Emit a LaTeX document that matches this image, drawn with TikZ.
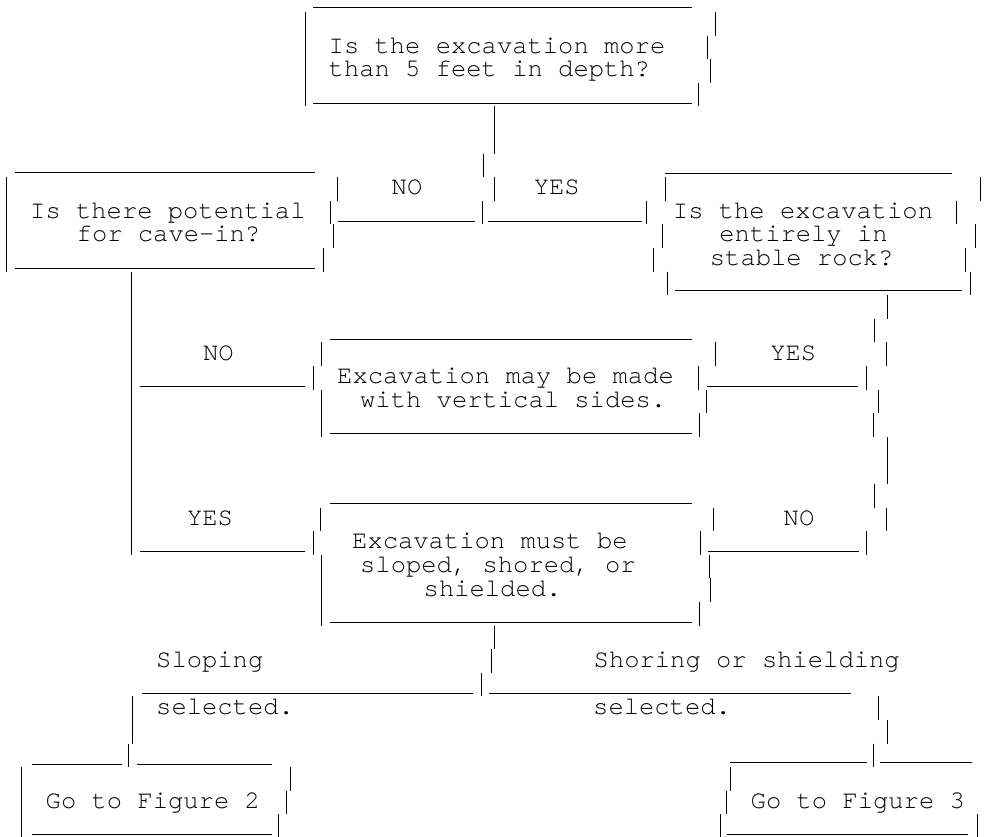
\documentclass[tikz,border=0pt]{standalone}
\usepackage{fontspec}
\setmonofont{texgyrecursor-regular.otf}
\begin{document}
\begin{tikzpicture}[x=1pt,y=-1pt,
  ln/.style={line width=0.9pt, black},
  txt/.style={font=\ttfamily\fontsize{25.5}{23.6}\selectfont, inner sep=0pt, anchor=base west},
  lbl/.style={txt, anchor=base}]
\useasboundingbox (0,0) rectangle (991,837);
% ---------- texts ----------
\node[txt] (a1) at (328.5,53.3) {Is the excavation more};
\node[txt] (a2) at (328.5,77) {than 5 feet in depth?};
\node[lbl] (no1) at (407,195) {NO};
\node[lbl] (yes1) at (556.7,195) {YES};
\node[txt] (b1) at (30,218.5) {Is there potential};
\node[txt] (b2) at (76.5,242) {for cave-in?};
\node[lbl] (c1) at (803,218.5) {Is the excavation};
\node[lbl] (c2) at (803.5,242) {entirely in};
\node[lbl] (c3) at (801.7,265.7) {stable rock?};
\node[lbl] (no2) at (218.3,360.3) {NO};
\node[lbl] (yes2) at (793.3,360.3) {YES};
\node[txt] (d1) at (337,383.7) {Excavation may be made};
\node[txt] (d2) at (360,407.3) {with vertical sides.};
\node[lbl] (yes3) at (210,525.5) {YES};
\node[lbl] (no3) at (799,525.5) {NO};
\node[txt] (e1) at (352,548.9) {Excavation must be};
\node[txt] (e2) at (360,572.5) {sloped, shored, or};
\node[txt] (e3) at (423.5,596.1) {shielded.};
\node[txt] (s1) at (156,667) {Sloping};
\node[txt] (s2) at (156,714.3) {selected.};
\node[txt] (h1) at (593.5,667) {Shoring or shielding};
\node[txt] (h2) at (593,714.3) {selected.};
\node[txt] (f) at (45.5,808.8) {Go to Figure 2};
\node[txt] (g) at (750.5,808.8) {Go to Figure 3};
% ---------- box A ----------
\draw[ln] (313,7.3)--(692,7.3);
\draw[ln] (305,12)--(305,106.4);
\draw[ln] (313,103.3)--(692,103.3);
\draw[ln] (715,12)--(715,35.6) (707.7,35.6)--(707.7,59.2) (710,59.2)--(710,82.8) (698.3,82.8)--(698.3,106.4);
% connector A
\draw[ln] (494,106.4)--(494,153.6) (483.5,153.6)--(483.5,177.2) (494.5,177.2)--(494.5,200.8) (482.5,200.8)--(482.5,224.4);
\draw[ln] (338,221)--(475,221) (488,221)--(642,221);
% ---------- box B ----------
\draw[ln] (15,172.7)--(315,172.7);
\draw[ln] (6,177.2)--(6,271.6);
\draw[ln] (15,268.3)--(315,268.3);
\draw[ln] (337,177.2)--(337,200.8) (330,200.8)--(330,224.4) (333,224.4)--(333,248) (323,248)--(323,271.6);
% ---------- box C ----------
\draw[ln] (665,173.3)--(951.7,173.3);
\draw[ln] (665,177.2)--(665,200.8) (646.7,200.8)--(646.7,224.4) (662.7,224.4)--(662.7,248) (653,248)--(653,271.6) (667,271.6)--(667,295.2);
\draw[ln] (980,177.2)--(980,200.8) (956,200.8)--(956,224.4) (975,224.4)--(975,248) (965,248)--(965,271.6) (970,271.6)--(970,295.2);
\draw[ln] (675,290.7)--(961.7,290.7);
% connector B down
\draw[ln] (131.7,271.6)--(131.7,554.8);
\draw[ln] (140,386)--(305,386) (313.3,366)--(313.3,389.6);
% ---------- box D ----------
\draw[ln] (330,339.3)--(691.7,339.3);
\draw[ln] (321.7,342.4)--(321.7,366) (321.7,389.6)--(321.7,436.8);
\draw[ln] (330,433.3)--(691.7,433.3);
\draw[ln] (715,342.4)--(715,366) (698.3,366)--(698.3,389.6) (706,389.6)--(706,413.2) (699.3,413.2)--(699.3,436.8);
\draw[ln] (706.7,386)--(858.3,386) (866,366)--(866,389.6);
% connector C down
\draw[ln] (887.3,295.2)--(887.3,318.8) (874,318.8)--(874,342.4) (886.7,342.4)--(886.7,366)
  (878.3,389.6)--(878.3,413.2) (873.3,413.2)--(873.3,436.8) (887.3,436.8)--(887.3,484)
  (874,484)--(874,507.6) (886.7,507.6)--(886.7,531.2) (866.7,531.2)--(866.7,554.8);
\draw[ln] (708.3,551.7)--(859,551.7);
\draw[ln] (140,551.7)--(305,551.7) (313.3,531.2)--(313.3,554.8);
% ---------- box E ----------
\draw[ln] (330,503.3)--(691.7,503.3);
\draw[ln] (320,507.6)--(320,531.2) (321.5,554.8)--(321.5,625.6);
\draw[ln] (330,622.3)--(691.7,622.3);
\draw[ln] (713.3,507.6)--(713.3,531.2) (700,531.2)--(700,554.8) (709.3,554.8)--(709.3,578.4) (710,578.4)--(710,602) (699.3,602)--(699.3,625.6);
% connector E
\draw[ln] (494.3,625.6)--(494.3,649.2) (491.7,649.2)--(491.7,672.8) (481,672.8)--(481,696.4);
\draw[ln] (141.7,693)--(473.3,693) (489.3,693)--(850.7,693);
% left branch and box F
\draw[ln] (132.7,696.4)--(132.7,743.6) (128.3,743.6)--(128.3,767.2);
\draw[ln] (31.7,764)--(121.7,764) (136.7,764)--(271.7,764);
\draw[ln] (21.7,767.2)--(21.7,838);
\draw[ln] (290,767.2)--(290,790.8) (286,790.8)--(286,814.4) (278.3,814.4)--(278.3,838);
\draw[ln] (31.7,834)--(271.7,834);
% right branch and box G
\draw[ln] (878.3,696.4)--(878.3,720) (887.3,720)--(887.3,743.6) (873.3,743.6)--(873.3,767.2);
\draw[ln] (730,762.7)--(866.7,762.7) (880,762.7)--(971.7,762.7);
\draw[ln] (730.7,767.2)--(730.7,790.8) (726,790.8)--(726,814.4) (720,814.4)--(720,838);
\draw[ln] (977.3,814.4)--(977.3,838);
\draw[ln] (727.3,834)--(968.3,834);
\end{tikzpicture}
\end{document}
